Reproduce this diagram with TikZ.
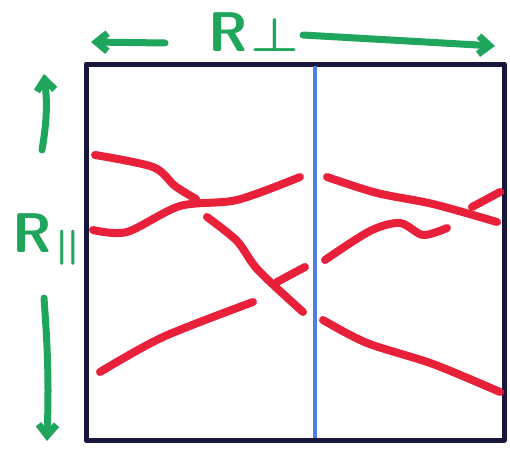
\documentclass[tikz,border=0pt]{standalone}
\usepackage{tikz}
\usetikzlibrary{arrows.meta,positioning}

\definecolor{boxnavy}{HTML}{16173A}
\definecolor{cutblue}{HTML}{4D7FE6}
\definecolor{markgreen}{HTML}{1FA65C}
\definecolor{tracered}{HTML}{E8203A}

\begin{document}
\begin{tikzpicture}[
        x=1pt, y=-1pt,
        >={Straight Barb[length=11pt, width=18pt]},
        frame/.style={draw=boxnavy, line width=5pt, line join=round},
        cut/.style={draw=cutblue, line width=3.5pt},
        marker/.style={draw=markgreen, line width=7pt, line cap=round, line join=round},
        axislabel/.style={text=markgreen, font=\fontsize{56}{56}\selectfont\sffamily\bfseries,
            inner sep=0pt, anchor=base west},
        track/.style={draw=tracered, line width=8pt, line cap=round, line join=round}
    ]
        \useasboundingbox (0,0) rectangle (510,452);

        % detector box and the cut
        \draw[frame] (86,64) rectangle (504,440);
        \coordinate (cuttop) at (315,66);
        \coordinate (cutbot) at (315,438);
        \draw[cut] (cuttop) -- (cutbot);

        % axis labels
        \node[axislabel] (rperp) at (208,52)
            {R\hspace{3pt}\raisebox{0pt}{\scalebox{2.2}[1.9]{\boldmath$\perp$}}};
        \node[axislabel] (rpar) at (12,252)
            {R\hspace{2pt}\raisebox{-4pt}{\scalebox{2}[1.4]{\boldmath$\parallel$}}};

        \coordinate (lefttip) at (91,42);
        \coordinate (righttip) at (495,46);
        \coordinate (uptip) at (44,74);
        \coordinate (downtip) at (47,441);
        \draw[marker,->] (165,43) -- (lefttip);
        \draw[marker,->] (303,35) -- (righttip);
        \draw[marker,->] (42,150) to[bend right=8] (uptip);
        \draw[marker,->] (44,298) to[bend left=3] (downtip);

        % left half
        \draw[track] plot[smooth] coordinates {(95,155) (153,167) (175,186) (196,199)};
        \draw[track] plot[smooth] coordinates {(93,230) (127,232) (180,206) (237,200) (300,177)};
        \draw[track] plot[smooth] coordinates {(207,217) (237,241) (258,270) (303,312)};
        \draw[track] (277,282) -- (305,267);
        \draw[track] plot[smooth] coordinates {(100,372) (163,337) (253,302)};

        % right half
        \draw[track] plot[smooth] coordinates {(327,177) (377,193) (433,204) (497,222)};
        \draw[track] (472,207) -- (500,192);
        \draw[track] plot[smooth] coordinates {(325,260) (370,231) (400,223) (423,235) (447,228)};
        \draw[track] plot[smooth] coordinates {(323,320) (367,343) (433,364) (500,392)};
    \end{tikzpicture}
\end{document}
